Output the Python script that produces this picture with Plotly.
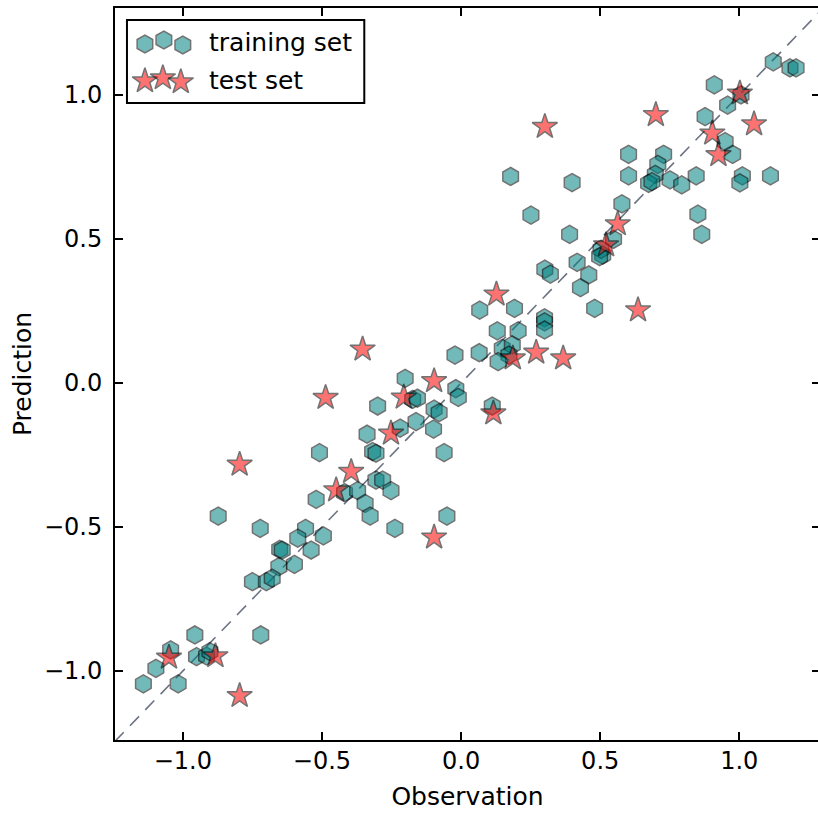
import plotly.graph_objects as go

# ---------------- data ----------------
train_obs = [1.122, 1.182, 1.204, 0.910, 1.006, 0.958, 0.877, 0.949, 0.976, 0.602,
             0.728, 0.707, 0.602, 0.698, 0.674, 0.686, 0.751, 0.793, 0.845, 1.011,
             1.002, 1.112, 0.851, 0.865, 0.578, 0.548, 0.509,
             0.178, 0.399, 0.251, 0.390, 0.503, 0.498, 0.417, 0.301, 0.321, 0.459,
             0.429, 0.480, 0.067, 0.192, 0.300, 0.300, 0.300, 0.130, 0.205, 0.148,
             0.184, 0.172, 0.133, -0.022, 0.065, -0.201, -0.019, -0.010,
             -0.174, -0.157, -0.300, -0.097, -0.079, 0.112, -0.162, -0.219, -0.099,
             -0.338, -0.318, -0.306, -0.509, -0.061, -0.306, -0.282, -0.252, -0.419,
             -0.372, -0.345, -0.327, -0.521, -0.238, -0.051, -0.873, -0.722, -0.559,
             -0.587, -0.495, -0.539, -0.652, -0.643, -0.655, -0.599, -0.750, -0.700,
             -0.679, -0.957, -0.720, -1.044, -1.097, -1.142, -1.017, -0.951, -0.915,
             -0.903]
train_pred = [1.115, 1.094, 1.094, 1.035, 1.000, 0.965, 0.925, 0.838, 0.794, 0.794,
              0.794, 0.759, 0.719, 0.724, 0.693, 0.699, 0.705, 0.688, 0.719, 0.719,
              0.695, 0.719, 0.586, 0.516, 0.622, 0.499, 0.444,
              0.717, 0.696, 0.583, 0.516, 0.464, 0.439, 0.419, 0.395, 0.378, 0.375,
              0.331, 0.259, 0.253, 0.259, 0.226, 0.212, 0.184, 0.181, 0.181, 0.120,
              0.132, 0.097, 0.074, 0.097, 0.105, 0.016, -0.020, -0.050,
              -0.057, -0.053, -0.080, -0.091, -0.103, -0.080, -0.134, -0.157, -0.160,
              -0.178, -0.238, -0.244, -0.242, -0.242, -0.337, -0.337, -0.374, -0.381,
              -0.374, -0.418, -0.462, -0.404, -0.505, -0.462, -0.462, -0.505, -0.505,
              -0.539, -0.531, -0.580, -0.578, -0.580, -0.638, -0.630, -0.690, -0.690,
              -0.678, -0.875, -0.875, -0.927, -0.991, -1.045, -1.045, -0.950, -0.948,
              -0.933]

test_obs = [1.002, 0.700, 0.301, 1.053, 0.903, 0.925, 0.563, 0.521, 0.127, 0.636,
            0.270, 0.186, 0.367, -0.354, -0.097, -0.206, -0.487, 0.116, -0.252,
            -0.395, -0.449, -0.097, -0.796, -1.050, -0.883, -0.796]
test_pred = [1.006, 0.931, 0.890, 0.899, 0.867, 0.792, 0.552, 0.479, 0.308, 0.253,
             0.106, 0.086, 0.086, 0.117, 0.007, -0.050, -0.051, -0.105, -0.175,
             -0.308, -0.372, -0.536, -0.283, -0.953, -0.948, -1.086]

diag = [-1.3, 1.3]

tick_vals = [-1.0, -0.5, 0.0, 0.5, 1.0]
tick_text = ["\u22121.0", "\u22120.5", "0.0", "0.5", "1.0"]

legend_labels = ["training set", "test set"]

FONT = "DejaVu Sans"
HEX_COLOR = "teal"
STAR_COLOR = "red"

HEX_MARKER = dict(symbol="hexagon", size=18, color=HEX_COLOR, opacity=0.55,
                  line=dict(color="black", width=1.5))
STAR_MARKER = dict(symbol="star", size=19, color=STAR_COLOR, opacity=0.55,
                   line=dict(color="black", width=1.5))

fig = go.Figure()

fig.add_trace(go.Scatter(
    x=diag, y=diag, mode="lines",
    line=dict(color="rgba(70,80,100,0.8)", width=1.6, dash="13px,9px"),
    showlegend=False, hoverinfo="skip"))

fig.add_trace(go.Scatter(
    x=train_obs, y=train_pred, mode="markers", name=legend_labels[0],
    marker=HEX_MARKER, showlegend=False))

fig.add_trace(go.Scatter(
    x=test_obs, y=test_pred, mode="markers", name=legend_labels[1],
    marker=STAR_MARKER, showlegend=False))

# ---- custom legend (three markers per entry, like matplotlib) ----
FIG_W, FIG_H = 822, 814
L, R, T, B = 115, 822, 8, 740
W, H = R - L, B - T
def px(xp):
    return (xp - L) / W
def py(yp):
    return (B - yp) / H

fig.add_trace(go.Scatter(
    x=[px(145), px(164), px(183)], y=[py(44), py(40), py(45)], xaxis="x2", yaxis="y2",
    mode="markers", marker=HEX_MARKER, showlegend=False, hoverinfo="skip"))
fig.add_trace(go.Scatter(
    x=[px(145), px(163), px(181)], y=[py(81), py(78), py(82)], xaxis="x2", yaxis="y2",
    mode="markers", marker=STAR_MARKER, showlegend=False, hoverinfo="skip"))

fig.add_shape(type="rect", xref="paper", yref="paper",
              x0=px(127), x1=px(365), y0=py(103), y1=py(20),
              line=dict(color="black", width=2), fillcolor="white", layer="below")
fig.add_annotation(x=px(207), y=py(42), xref="paper", yref="paper", text=legend_labels[0],
                   showarrow=False, xanchor="left", yanchor="middle",
                   font=dict(family=FONT, size=25, color="black"))
fig.add_annotation(x=px(207), y=py(80), xref="paper", yref="paper", text=legend_labels[1],
                   showarrow=False, xanchor="left", yanchor="middle",
                   font=dict(family=FONT, size=25, color="black"))

x0 = -1.244
x1 = x0 + W / 279.0
y1 = 1.302
y0 = y1 - H / 288.0

axis_common = dict(
    showgrid=False, zeroline=False, showline=True, linecolor="black", linewidth=2,
    ticks="inside", ticklen=8, tickwidth=1.5, tickcolor="black", mirror="ticks",
    tickvals=tick_vals, ticktext=tick_text,
    tickfont=dict(family=FONT, size=24, color="black"),
)

fig.update_layout(
    width=FIG_W, height=FIG_H,
    margin=dict(l=L, r=FIG_W - R, t=T, b=FIG_H - B),
    paper_bgcolor="white", plot_bgcolor="white",
    font=dict(family=FONT, color="black"),
    xaxis=dict(range=[x0, x1], ticklabelstandoff=-2,
               title=dict(text="Observation", font=dict(family=FONT, size=25), standoff=14),
               **axis_common),
    yaxis=dict(range=[y0, y1], ticklabelstandoff=6,
               title=dict(text="Prediction", font=dict(family=FONT, size=25), standoff=5),
               **axis_common),
    xaxis2=dict(overlaying="x", range=[0, 1], visible=False, anchor="y2"),
    yaxis2=dict(overlaying="y", range=[0, 1], visible=False, anchor="x2"),
    showlegend=False,
)

fig.write_html("out.html",
               config={"displayModeBar": False},
               post_script="document.body.style.margin='0';"
                           "document.body.style.overflow='hidden';")
